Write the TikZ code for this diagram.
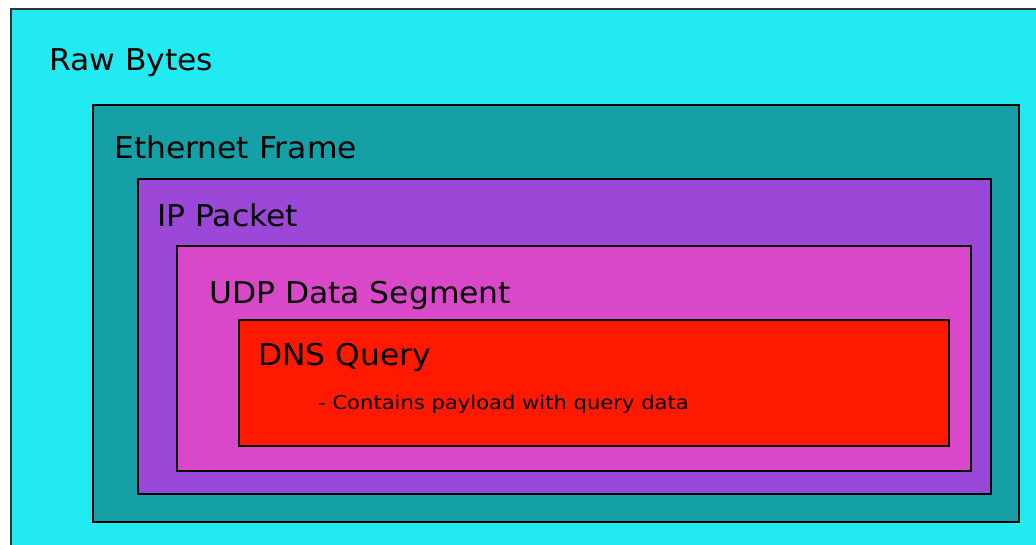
\documentclass[tikz,border=0pt]{standalone}
\usepackage{fontspec}
\setmainfont{DejaVu Sans}
\definecolor{rawcyan}{RGB}{35,234,240}
\definecolor{ethteal}{RGB}{20,160,166}
\definecolor{ippurple}{RGB}{155,72,217}
\definecolor{udpmagenta}{RGB}{217,72,200}
\definecolor{dnsred}{RGB}{255,25,0}
\tikzset{
  layer/.style={draw=black, line width=1.6pt, inner sep=0pt, anchor=north west},
  title/.style={anchor=base west, inner sep=0pt,
    font=\fontsize{30}{36}\selectfont\addfontfeature{FakeStretch=1.045}},
  note/.style={anchor=base west, inner sep=0pt,
    font=\fontsize{19}{23}\selectfont\addfontfeature{FakeStretch=1.11}},
}
\begin{document}
\begin{tikzpicture}[x=1pt,y=-1pt]
  \useasboundingbox (0,0) rectangle (1036,544);
  \clip (0,0) rectangle (1036,544);
  \fill[white] (0,0) rectangle (1036,544);
  % nested protocol layers
  \node[layer, draw=black!80, fill=rawcyan, minimum width=1100pt, minimum height=600pt] (raw) at (10,8) {};
  \node[layer, fill=ethteal, minimum width=926pt, minimum height=417pt] (eth) at (92,104) {};
  \node[layer, fill=ippurple, minimum width=853pt, minimum height=315pt] (ip) at (137,178) {};
  \node[layer, fill=udpmagenta, minimum width=794pt, minimum height=225pt] (udp) at (176,245) {};
  \node[layer, fill=dnsred, minimum width=710pt, minimum height=126pt] (dns) at (238,319) {};
  % layer titles
  \node[title] (rawlbl) at (49,70) {Raw Bytes};
  \node[title] (ethlbl) at (114,158) {Ethernet Frame};
  \node[title] (iplbl) at (157,226) {IP Packet};
  \node[title] (udplbl) at (209,303) {UDP Data Segment};
  \node[title] (dnslbl) at (258,365) {DNS Query};
  \node[note] (dnsnote) at (318,409) {- Contains payload with query data};
\end{tikzpicture}
\end{document}
